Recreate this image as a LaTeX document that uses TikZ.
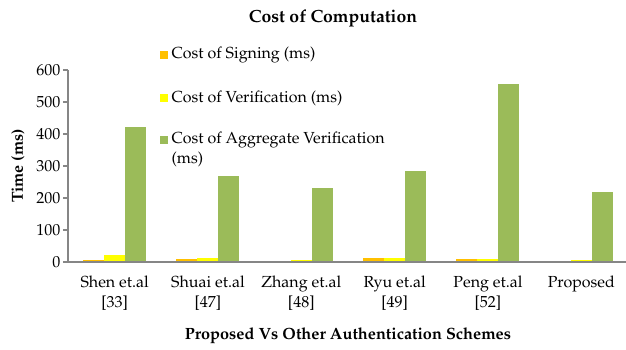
\documentclass[tikz,border=0pt]{standalone}
\usepackage[T1]{fontenc}
\usepackage{mathpazo}
\definecolor{signclr}{HTML}{FFC000}
\definecolor{verclr}{HTML}{FFFF00}
\definecolor{aggclr}{HTML}{9BBB59}
\definecolor{axisclr}{HTML}{868686}
\begin{document}
\begin{tikzpicture}[x=0.75pt,y=-0.75pt,
    charttext/.style={font=\fontsize{12}{15.5}\selectfont, text=black, inner sep=1pt},
    axisline/.style={draw=axisclr, line width=1.2pt}]
    % ===== PARAMETERS =====
    \pgfmathsetmacro{\Ox}{68}     % x of y-axis
    \pgfmathsetmacro{\Oy}{262}    % y of zero line
    \pgfmathsetmacro{\K}{0.32}    % px per ms
    \pgfmathsetmacro{\G}{93.33}   % group width
    \pgfmathsetmacro{\B}{21}      % bar width

    \useasboundingbox (0,0) rectangle (626,350);

    % ===== BARS =====
    \foreach \lbl/\s/\v/\a [count=\i from 0] in
        {{Shen et.al\\{}[33]}/7/21/423, {Shuai et.al\\{}[47]}/9/12/268,
         {Zhang et.al\\{}[48]}/4/7/232, {Ryu et.al\\{}[49]}/13/13/285,
         {Peng et.al\\{}[52]}/8/9/556, {Proposed}/3/6/219}
    {
        \pgfmathsetmacro{\X}{\Ox + \i*\G + 15}
        \fill[signclr] (\X,\Oy) rectangle (\X+\B, \Oy-\s*\K);
        \fill[verclr] (\X+\B,\Oy) rectangle (\X+2*\B, \Oy-\v*\K);
        \fill[aggclr] (\X+2*\B,\Oy) rectangle (\X+3*\B, \Oy-\a*\K);
        \node[charttext, anchor=north, align=center] (cat\i) at (\Ox + \i*\G + \G/2, \Oy+12) {\lbl};
    }

    % ===== AXES =====
    \draw[axisline] (\Ox,70) -- (\Ox,\Oy) -- (626,\Oy);
    \foreach \t in {0,100,...,600}
    {
        \draw[axisline] (\Ox-5,\Oy-\t*\K) -- (\Ox,\Oy-\t*\K);
        \node[charttext, anchor=east] (tick\t) at (\Ox-6,\Oy-\t*\K) {\t};
    }

    % ===== TITLES =====
    \node[charttext, font=\fontsize{13.2}{15}\selectfont\bfseries] (title) at (333,18) {Cost of Computation};
    \node[charttext, font=\fontsize{12.2}{14}\selectfont\bfseries] (xtitle) at (348,336) {Proposed Vs Other Authentication Schemes};
    \node[charttext, font=\fontsize{12}{14}\selectfont\bfseries, rotate=90] (ytitle) at (18,166) {Time (ms)};

    % ===== LEGEND =====
    \fill[signclr] (160,51) rectangle (168,59);
    \node[charttext, anchor=west] (legsign) at (170,55) {Cost of Signing (ms)};
    \fill[verclr] (160,94) rectangle (168,102);
    \node[charttext, anchor=west] (legver) at (170,98) {Cost of Verification (ms)};
    \fill[aggclr] (160,136) rectangle (168,144);
    \node[charttext, anchor=north west, align=left] (legagg) at (170,130) {Cost of Aggregate Verification\\(ms)};
\end{tikzpicture}
\end{document}
